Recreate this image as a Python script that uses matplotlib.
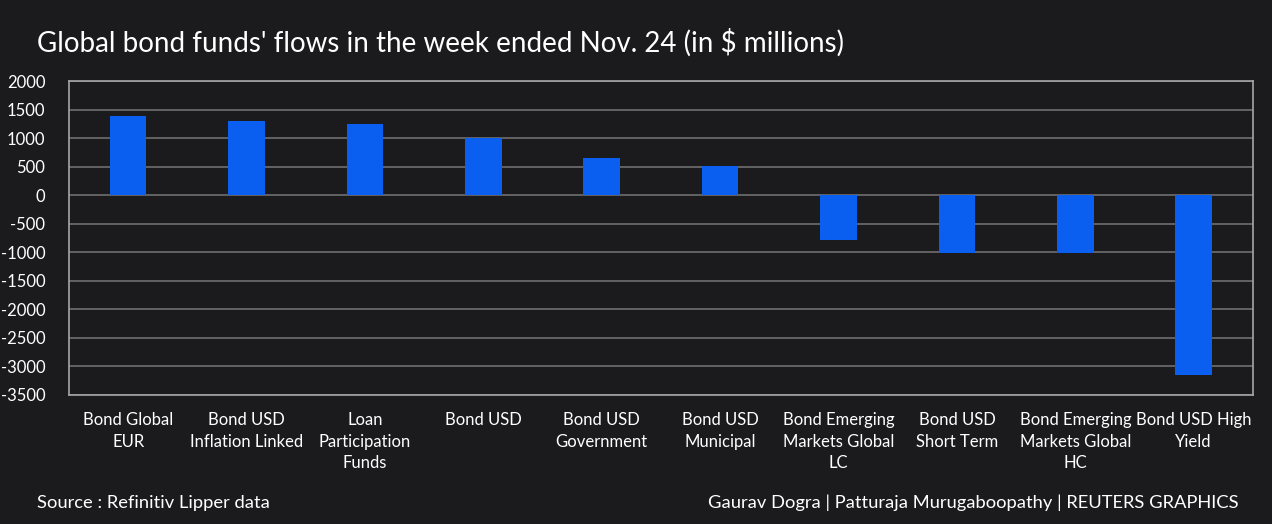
import numpy as np
import matplotlib.pyplot as plt

categories = ["Bond Global\nEUR", "Bond USD\nInflation Linked", "Loan\nParticipation\nFunds",
              "Bond USD", "Bond USD\nGovernment", "Bond USD\nMunicipal",
              "Bond Emerging\nMarkets Global\nLC", "Bond USD\nShort Term",
              "Bond Emerging\nMarkets Global\nHC", "Bond USD High\nYield"]
flows = [1390, 1300, 1250, 1000, 650, 510, -785, -1010, -1015, -3150]

bg = "#1b1b1d"
plt.rcParams['font.family'] = ['Lato', 'DejaVu Sans']
plt.rcParams['axes.unicode_minus'] = False

fig = plt.figure(figsize=(12.72, 5.24), dpi=100, facecolor=bg)
ax = fig.add_axes([0.0542, 0.2462, 0.9308, 0.5992], facecolor=bg)

x = np.arange(len(categories))
ax.bar(x, flows, width=0.31, color="#0a5ef0", zorder=3)

ax.set_xlim(-0.5, len(categories) - 0.5)
ax.set_ylim(-3500, 2000)
ax.set_yticks(np.arange(-3500, 2001, 500))
ax.grid(axis='y', color="#6e6e6e", linewidth=1.2, zorder=0)
ax.set_xticks(x)
ax.set_xticklabels(categories, fontsize=12, color="white", linespacing=1.45)
ax.tick_params(axis='y', labelsize=12, colors="white", length=0, pad=17)
ax.tick_params(axis='x', length=0, pad=12)
for s in ax.spines.values():
    s.set_color("#a6a6a6")
    s.set_linewidth(1.2)

fig.text(0.029, 0.918, "Global bond funds' flows in the week ended Nov. 24 (in $ millions)",
         fontsize=20, color="white", va='center')
fig.text(0.029, 0.04, "Source : Refinitiv Lipper data", fontsize=13.2, color="white", va='center')
fig.text(0.974, 0.04, "Gaurav Dogra | Patturaja Murugaboopathy | REUTERS GRAPHICS",
         fontsize=13.2, color="white", va='center', ha='right')

fig.savefig("out.png", dpi=100, facecolor=bg)
